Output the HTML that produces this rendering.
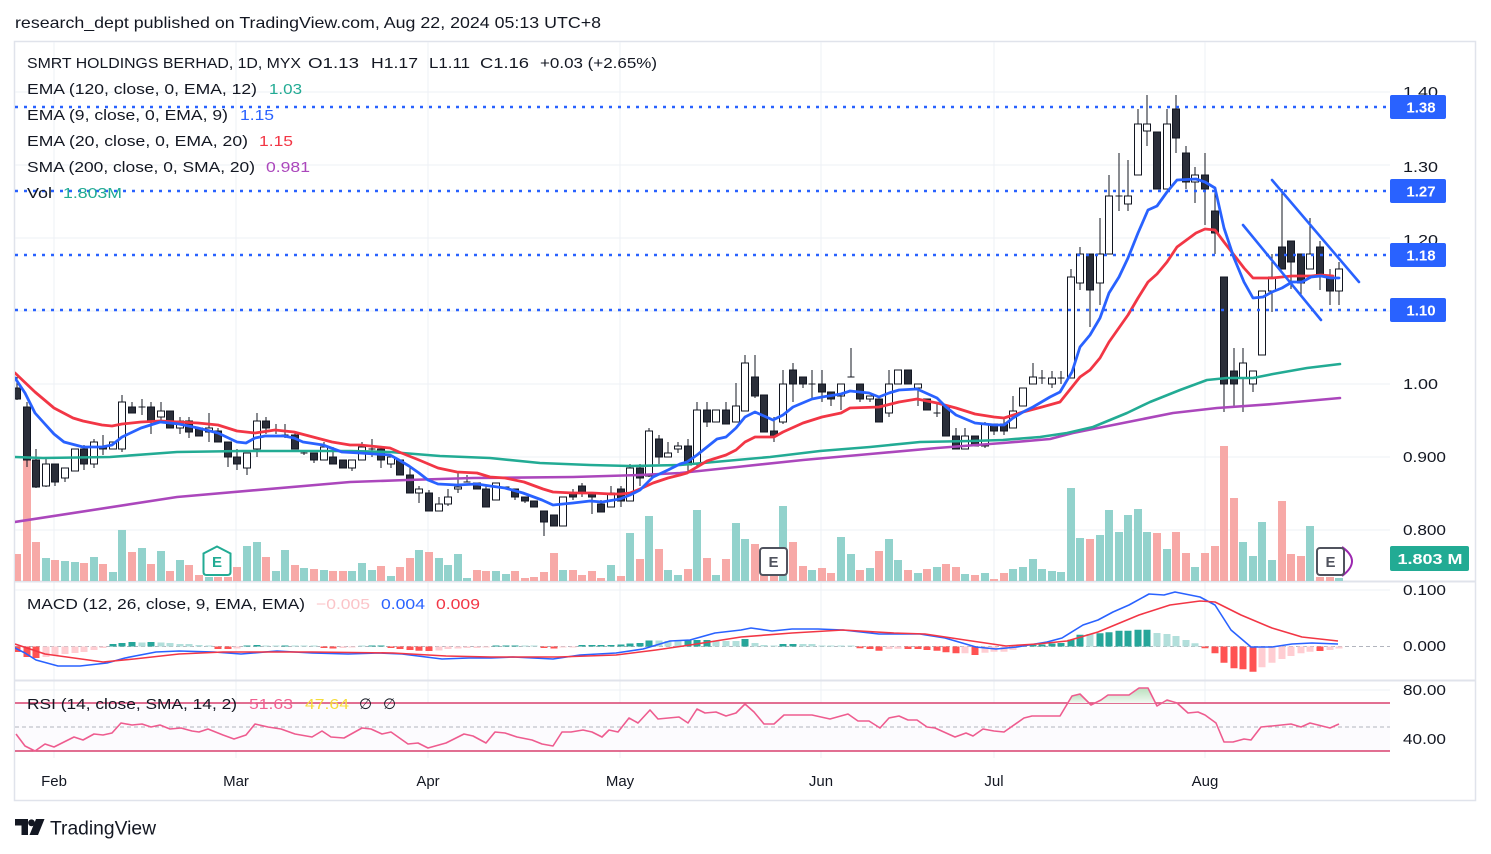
<!DOCTYPE html>
<html><head><meta charset="utf-8">
<style>
html,body{margin:0;padding:0;background:#fff;}
svg{display:block;font-family:"Liberation Sans","DejaVu Sans",Arial,sans-serif;}
</style></head><body>
<svg width="1491" height="854" viewBox="0 0 1491 854" xmlns="http://www.w3.org/2000/svg">
<rect width="1491" height="854" fill="#fff"/>
<defs>
<clipPath id="cm"><rect x="15" y="42" width="1375" height="539"/></clipPath>
<clipPath id="cmacd"><rect x="15" y="583" width="1375" height="97"/></clipPath>
<clipPath id="crsi"><rect x="15" y="682" width="1375" height="78"/></clipPath>
<linearGradient id="gfill" x1="0" y1="0" x2="0" y2="1"><stop offset="0" stop-color="#b9dfbd"/><stop offset="1" stop-color="#f1f9f2"/></linearGradient>
</defs>

<text x="15" y="28" font-size="16" fill="#131722" textLength="586" lengthAdjust="spacingAndGlyphs">research_dept published on TradingView.com, Aug 22, 2024 05:13 UTC+8</text>

<rect x="14.5" y="41.5" width="1461" height="759" fill="none" stroke="#e0e3eb" stroke-width="1.5"/>

<g stroke="#eef0f5" stroke-width="1">
<path d="M15 92H1390M15 165H1390M15 238H1390M15 311H1390M15 384H1390M15 457H1390M15 530H1390M15 590H1390M15 690H1390M15 739H1390"/>
<path d="M54 42V758M236 42V758M428 42V758M620 42V758M821 42V758M994 42V758M1205 42V758"/>
</g>
<path d="M15 581.5H1476M15 680.5H1476" stroke="#e0e3eb" stroke-width="2"/>

<g clip-path="url(#cm)">
<path fill="#92d2cc" d="M42 558h8V581h-8zM61 561h8V581h-8zM71 562h8V581h-8zM90 557h8V581h-8zM109 572h8V581h-8zM118 530h8V581h-8zM138 548h8V581h-8zM157 551h8V581h-8zM176 560h8V581h-8zM205 577h8V581h-8zM243 546h8V581h-8zM253 542h8V581h-8zM272 571h8V581h-8zM281 550h8V581h-8zM300 568h8V581h-8zM320 570h8V581h-8zM348 571h8V581h-8zM358 563h8V581h-8zM368 570h8V581h-8zM387 576h8V581h-8zM415 550h8V581h-8zM435 558h8V581h-8zM444 565h8V581h-8zM454 554h8V581h-8zM463 578h8V581h-8zM492 571h8V581h-8zM502 574h8V581h-8zM559 570h8V581h-8zM607 565h8V581h-8zM626 533h8V581h-8zM645 516h8V581h-8zM664 570h8V581h-8zM674 575h8V581h-8zM693 510h8V581h-8zM712 575h8V581h-8zM732 523h8V581h-8zM741 539h8V581h-8zM779 506h8V581h-8zM808 570h8V581h-8zM837 537h8V581h-8zM847 554h8V581h-8zM866 568h8V581h-8zM885 539h8V581h-8zM894 560h8V581h-8zM914 573h8V581h-8zM933 567h8V581h-8zM961 574h8V581h-8zM981 573h8V581h-8zM1009 569h8V581h-8zM1019 567h8V581h-8zM1029 559h8V581h-8zM1038 569h8V581h-8zM1048 571h8V581h-8zM1057 572h8V581h-8zM1067 488h8V581h-8zM1076 538h8V581h-8zM1096 535h8V581h-8zM1105 510h8V581h-8zM1115 532h8V581h-8zM1124 515h8V581h-8zM1134 509h8V581h-8zM1143 532h8V581h-8zM1163 549h8V581h-8zM1191 567h8V581h-8zM1239 542h8V581h-8zM1249 556h8V581h-8zM1258 522h8V581h-8zM1268 560h8V581h-8zM1306 526h8V581h-8zM1335 578h8V581h-8z"/>
<path fill="#f7a9a7" d="M13 554h8V581h-8zM23 460h8V581h-8zM32 542h8V581h-8zM51 560h8V581h-8zM80 563h8V581h-8zM99 564h8V581h-8zM128 552h8V581h-8zM147 564h8V581h-8zM166 571h8V581h-8zM185 565h8V581h-8zM195 575h8V581h-8zM214 577h8V581h-8zM224 577h8V581h-8zM233 567h8V581h-8zM262 557h8V581h-8zM291 565h8V581h-8zM310 569h8V581h-8zM329 571h8V581h-8zM339 571h8V581h-8zM377 566h8V581h-8zM396 567h8V581h-8zM406 558h8V581h-8zM425 552h8V581h-8zM473 570h8V581h-8zM482 571h8V581h-8zM511 571h8V581h-8zM521 578h8V581h-8zM530 577h8V581h-8zM540 572h8V581h-8zM550 553h8V581h-8zM569 570h8V581h-8zM578 575h8V581h-8zM588 571h8V581h-8zM597 578h8V581h-8zM617 576h8V581h-8zM636 559h8V581h-8zM655 549h8V581h-8zM684 569h8V581h-8zM703 558h8V581h-8zM722 559h8V581h-8zM751 544h8V581h-8zM760 548h8V581h-8zM770 548h8V581h-8zM789 542h8V581h-8zM799 566h8V581h-8zM818 568h8V581h-8zM827 573h8V581h-8zM856 570h8V581h-8zM875 551h8V581h-8zM904 570h8V581h-8zM923 569h8V581h-8zM942 564h8V581h-8zM952 567h8V581h-8zM971 575h8V581h-8zM990 579h8V581h-8zM1000 573h8V581h-8zM1086 539h8V581h-8zM1153 533h8V581h-8zM1172 532h8V581h-8zM1182 553h8V581h-8zM1201 553h8V581h-8zM1211 546h8V581h-8zM1220 446h8V581h-8zM1230 498h8V581h-8zM1278 501h8V581h-8zM1287 554h8V581h-8zM1297 556h8V581h-8zM1316 577h8V581h-8zM1326 577h8V581h-8z"/>

<path fill="none" stroke="#131722" stroke-width="1" d="M17 377V400M27 402V467M36 449V488M46 458V487M55 464V486M65 468V482M75 449V471M84 445V470M94 439V468M103 435V455M113 442V449M122 395V452M132 402V413M142 399V415M138.5 407h7M151 402V434M161 402V423M170 411V428M180 417V434M189 417V438M199 428V436M209 413V442M218 428V442M228 442V467M237 449V470M247 453V475M257 413V457M266 417V434M276 424V434M272.5 431h7M285 424V438M281.5 435h7M295 431V449M304 451V455M300.5 453h7M314 453V463M324 442V460M333 447V464M343 460V468M352 460V471M362 442V460M372 439V457M368.5 449h7M381 449V468M391 457V468M400 460V475M410 468V493M419 486V503M429 490V511M439 497V511M448 489V506M458 472V493M467 475V482M463.5 482h7M477 483V489M486 486V507M496 483V500M506 487V489M502.5 487h7M515 489V500M525 497V503M534 501V507M544 511V536M554 515V526M563 497V526M573 489V500M582 483V497M592 493V514M601 500V512M611 486V507M621 486V507M630 464V501M640 464V486M649 428V477M659 435V464M668 442V457M678 442V453M688 439V471M697 402V467M707 402V427M716 410V422M726 402V424M736 383V422M745 355V411M755 355V398M764 395V432M774 417V442M783 370V424M793 363V402M803 377V388M812 370V398M808.5 384h7M822 370V402M831 392V406M841 384V410M851 348V377M847.5 377h7M860 384V402M870 396V402M879 399V422M889 370V417M898 370V384M908 370V384M918 384V406M927 399V410M937 402V417M933.5 413h7M946 406V436M956 428V449M965 428V449M975 436V446M985 422V448M994 424V435M1004 417V435M1013 396V428M1023 388V406M1033 363V384M1042 370V384M1038.5 378h7M1052 371V388M1061 371V384M1057.5 378h7M1071 269V378M1080 247V290M1090 254V327M1100 218V305M1109 175V254M1119 153V211M1115.5 196h7M1128 160V211M1138 109V175M1147 95V146M1157 132V189M1167 109V189M1176 95V153M1186 146V189M1195 167V203M1205 153V225M1215 189V254M1224 277V412M1234 348V406M1243 348V412M1253 371V392M1262 291V355M1272 254V312M1282 189V269M1291 241V289M1301 254V297M1310 218V269M1320 241V290M1330 269V305M1339 262V305"/>

<path fill="#2a2e39" stroke="#131722" stroke-width="1" d="M13.5 388h7V399h-7zM23.5 407h7V460h-7zM32.5 460h7V487h-7zM51.5 464h7V482h-7zM80.5 449h7V464h-7zM99.5 447h7V449h-7zM128.5 407h7V413h-7zM147.5 407h7V421h-7zM166.5 411h7V428h-7zM185.5 421h7V432h-7zM195.5 428h7V436h-7zM214.5 431h7V442h-7zM224.5 442h7V457h-7zM233.5 457h7V464h-7zM262.5 421h7V428h-7zM291.5 435h7V449h-7zM310.5 453h7V460h-7zM329.5 457h7V464h-7zM339.5 460h7V468h-7zM377.5 449h7V460h-7zM396.5 460h7V475h-7zM406.5 475h7V493h-7zM425.5 493h7V511h-7zM473.5 483h7V489h-7zM482.5 489h7V507h-7zM511.5 489h7V497h-7zM521.5 497h7V501h-7zM530.5 501h7V507h-7zM540.5 511h7V522h-7zM550.5 515h7V526h-7zM569.5 493h7V497h-7zM578.5 486h7V493h-7zM588.5 493h7V497h-7zM597.5 504h7V512h-7zM617.5 489h7V501h-7zM636.5 468h7V478h-7zM655.5 439h7V457h-7zM684.5 446h7V465h-7zM703.5 410h7V422h-7zM722.5 410h7V424h-7zM751.5 377h7V396h-7zM760.5 395h7V432h-7zM770.5 431h7V436h-7zM789.5 370h7V384h-7zM799.5 377h7V384h-7zM818.5 384h7V392h-7zM827.5 392h7V399h-7zM856.5 384h7V399h-7zM875.5 399h7V422h-7zM904.5 370h7V384h-7zM923.5 399h7V410h-7zM942.5 406h7V436h-7zM952.5 436h7V449h-7zM971.5 436h7V446h-7zM990.5 424h7V431h-7zM1000.5 424h7V431h-7zM1086.5 254h7V290h-7zM1153.5 132h7V189h-7zM1172.5 109h7V138h-7zM1182.5 153h7V182h-7zM1201.5 175h7V189h-7zM1211.5 211h7V233h-7zM1220.5 277h7V384h-7zM1230.5 371h7V384h-7zM1278.5 247h7V269h-7zM1287.5 241h7V262h-7zM1297.5 254h7V283h-7zM1316.5 247h7V277h-7zM1326.5 277h7V291h-7z"/>

<path fill="#ffffff" stroke="#131722" stroke-width="1" d="M42.5 464h7V486h-7zM61.5 468h7V478h-7zM71.5 449h7V471h-7zM90.5 442h7V464h-7zM109.5 442h7V449h-7zM118.5 402h7V449h-7zM157.5 411h7V417h-7zM176.5 421h7V428h-7zM205.5 428h7V432h-7zM243.5 453h7V468h-7zM253.5 421h7V449h-7zM320.5 447h7V460h-7zM348.5 460h7V468h-7zM358.5 447h7V460h-7zM387.5 457h7V464h-7zM415.5 489h7V493h-7zM435.5 504h7V511h-7zM444.5 497h7V504h-7zM454.5 487h7V489h-7zM492.5 483h7V500h-7zM559.5 497h7V526h-7zM607.5 493h7V507h-7zM626.5 468h7V501h-7zM645.5 431h7V476h-7zM664.5 453h7V457h-7zM674.5 446h7V449h-7zM693.5 410h7V463h-7zM712.5 410h7V422h-7zM732.5 406h7V422h-7zM741.5 363h7V411h-7zM779.5 384h7V422h-7zM837.5 384h7V396h-7zM866.5 396h7V399h-7zM885.5 384h7V413h-7zM894.5 370h7V384h-7zM914.5 384h7V388h-7zM961.5 436h7V449h-7zM981.5 424h7V446h-7zM1009.5 411h7V428h-7zM1019.5 388h7V406h-7zM1029.5 377h7V384h-7zM1048.5 378h7V384h-7zM1067.5 277h7V378h-7zM1076.5 254h7V283h-7zM1096.5 254h7V283h-7zM1105.5 196h7V254h-7zM1124.5 196h7V204h-7zM1134.5 124h7V175h-7zM1143.5 124h7V131h-7zM1163.5 124h7V189h-7zM1191.5 175h7V182h-7zM1239.5 363h7V378h-7zM1249.5 371h7V384h-7zM1258.5 291h7V355h-7zM1268.5 277h7V291h-7zM1306.5 254h7V269h-7zM1335.5 269h7V291h-7z"/>

<g fill="none" stroke-linejoin="round" stroke-linecap="round">
<polyline stroke="#ab47bc" stroke-width="2.6" points="15,522 177,497 350,482 407,480 473,478 573,477 640,475 680,473 737,467 803,460 870,454 937,448 1003,443 1050,439 1073,433 1123,423 1173,413 1217,408 1273,404 1340,398"/>
<polyline stroke="#22ab94" stroke-width="2.6" points="15,457 43,458 110,457 177,452 243,451 310,451 350,451 390,452 440,456 490,458 540,463 590,465 630,466 680,465 703,463 770,457 820,451 870,447 920,442 970,441 1003,440 1040,437 1067,433 1093,427 1127,413 1150,402 1180,390 1207,380 1227,378 1253,378 1273,374 1307,368 1340,364"/>
<polyline stroke="#f23645" stroke-width="2.8" points="15,373 35,392 54,408 73,418 83,421 102,425 112,426 122,424 141,422 160,421 179,422 198,423 218,425 237,431 255,433 275,430 294,432 313,437 332,442 350,445 360,445 380,447 390,448 399,452 419,460 438,468 457,472 477,473 490,477 505,478 524,482 543,489 553,492 573,493 592,493 611,494 621,494 630,493 640,489 653,483 668,478 680,475 687,473 707,461 726,455 736,450 745,442 755,437 774,437 783,432 803,423 822,417 841,413 850,408 879,407 899,402 917,399 937,403 956,408 975,414 994,417 1004,418 1023,412 1042,407 1060,402 1080,377 1090,370 1100,358 1109,342 1128,315 1138,298 1148,282 1157,274 1167,262 1177,247 1196,233 1205,229 1215,230 1224,242 1234,255 1244,268 1253,278 1272,278 1292,276 1311,276 1321,275 1333,276"/>
<polyline stroke="#2962ff" stroke-width="2.8" points="15,378 25,393 35,413 44,423 54,434 64,442 83,447 102,447 112,445 122,437 141,428 160,422 179,424 198,428 218,433 237,442 246,443 255,438 265,436 284,436 294,438 303,442 323,445 342,452 360,453 390,455 399,460 409,466 419,473 428,480 438,484 457,485 477,484 490,486 505,488 523,493 542,500 553,505 573,503 590,501 602,502 620,499 630,495 640,490 653,477 668,470 680,464 687,462 697,455 717,439 726,437 736,428 745,417 755,412 764,416 773,420 783,415 793,407 812,399 822,397 841,394 850,391 869,393 879,397 889,393 899,390 917,389 937,398 946,407 956,415 975,423 994,425 1004,425 1013,418 1023,412 1033,407 1050,397 1060,392 1072,372 1080,347 1090,335 1100,318 1109,293 1119,277 1128,258 1138,233 1148,210 1157,206 1167,192 1177,180 1196,179 1205,182 1215,188 1224,228 1234,258 1244,282 1253,298 1263,297 1272,292 1282,288 1292,282 1302,282 1311,277 1321,276 1331,278 1339,278"/>
<path stroke="#2962ff" stroke-width="2.6" d="M1272 180L1359 282M1243 225L1321 320"/>
</g>

<path fill="none" stroke="#2962ff" stroke-width="2.6" stroke-dasharray="3 6" d="M15 107H1390M15 191H1390M15 255H1390M15 310H1390"/>

<path d="M217 546.5L230.5 553.5V572Q230.5 575 227.5 575H206.5Q203.5 575 203.5 572V553.5Z" fill="#fff" stroke="#22ab94" stroke-width="2"/>
<text x="217" y="567" font-size="15" font-weight="bold" fill="#22ab94" text-anchor="middle">E</text>
<rect x="760" y="548" width="27" height="27" rx="3" fill="#fff" stroke="#50535e" stroke-width="2"/>
<text x="773.5" y="567" font-size="15" font-weight="bold" fill="#50535e" text-anchor="middle">E</text>
<path d="M1342 547Q1362 561 1342 576" fill="none" stroke="#9c27b0" stroke-width="2"/>
<rect x="1317" y="548" width="27" height="27" rx="3" fill="#fff" stroke="#50535e" stroke-width="2"/>
<text x="1330.5" y="567" font-size="15" font-weight="bold" fill="#50535e" text-anchor="middle">E</text>
</g>

<g clip-path="url(#cmacd)">
<path d="M15 646.5H1390" stroke="#b2b5be" stroke-width="1" stroke-dasharray="4 3"/>
<path fill="#26a69a" d="M109.5 646.5h7V644h-7zM118.5 646.5h7V643h-7zM128.5 646.5h7V642h-7zM147.5 646.5h7V642h-7zM243.5 646.5h7V645.5h-7zM253.5 646.5h7V645h-7zM281.5 646.5h7V645.5h-7zM368.5 646.5h7V645.5h-7zM377.5 646.5h7V645.5h-7zM492.5 646.5h7V645.5h-7zM502.5 646.5h7V645.5h-7zM511.5 646.5h7V645.5h-7zM578.5 646.5h7V645h-7zM588.5 646.5h7V645h-7zM597.5 646.5h7V645h-7zM607.5 646.5h7V645h-7zM617.5 646.5h7V644.5h-7zM626.5 646.5h7V643.5h-7zM636.5 646.5h7V643h-7zM645.5 646.5h7V640.5h-7zM684.5 646.5h7V640.5h-7zM693.5 646.5h7V640h-7zM703.5 646.5h7V640h-7zM741.5 646.5h7V639h-7zM779.5 646.5h7V644h-7zM789.5 646.5h7V644h-7zM1019.5 646.5h7V645.5h-7zM1029.5 646.5h7V645h-7zM1038.5 646.5h7V644.5h-7zM1048.5 646.5h7V643.5h-7zM1057.5 646.5h7V643h-7zM1067.5 646.5h7V639.7h-7zM1076.5 646.5h7V634.7h-7zM1096.5 646.5h7V633.3h-7zM1105.5 646.5h7V632.3h-7zM1115.5 646.5h7V630.7h-7zM1124.5 646.5h7V630.7h-7zM1134.5 646.5h7V629.7h-7zM1143.5 646.5h7V629.7h-7z"/>
<path fill="#b2dfdb" d="M138.5 646.5h7V642.5h-7zM157.5 646.5h7V642.5h-7zM166.5 646.5h7V643h-7zM176.5 646.5h7V644h-7zM185.5 646.5h7V644h-7zM195.5 646.5h7V645h-7zM205.5 646.5h7V645.5h-7zM262.5 646.5h7V645.5h-7zM272.5 646.5h7V645.5h-7zM291.5 646.5h7V645.5h-7zM300.5 646.5h7V645.5h-7zM310.5 646.5h7V645.5h-7zM358.5 646.5h7V645.5h-7zM521.5 646.5h7V645.5h-7zM530.5 646.5h7V645.5h-7zM655.5 646.5h7V640.5h-7zM664.5 646.5h7V641h-7zM674.5 646.5h7V641h-7zM712.5 646.5h7V641h-7zM722.5 646.5h7V641h-7zM732.5 646.5h7V641h-7zM751.5 646.5h7V643h-7zM760.5 646.5h7V645h-7zM770.5 646.5h7V645.5h-7zM799.5 646.5h7V644h-7zM808.5 646.5h7V644h-7zM818.5 646.5h7V645.5h-7zM827.5 646.5h7V645.5h-7zM837.5 646.5h7V645.5h-7zM847.5 646.5h7V645.5h-7zM1086.5 646.5h7V634h-7zM1153.5 646.5h7V633h-7zM1163.5 646.5h7V634h-7zM1172.5 646.5h7V636h-7zM1182.5 646.5h7V640h-7zM1191.5 646.5h7V643.3h-7z"/>
<path fill="#ff5252" d="M13.5 646.5h7V652h-7zM23.5 646.5h7V657h-7zM32.5 646.5h7V658h-7zM214.5 646.5h7V649h-7zM224.5 646.5h7V649h-7zM320.5 646.5h7V648h-7zM329.5 646.5h7V648.5h-7zM387.5 646.5h7V648h-7zM396.5 646.5h7V649h-7zM406.5 646.5h7V650h-7zM415.5 646.5h7V650.7h-7zM425.5 646.5h7V651h-7zM540.5 646.5h7V648h-7zM550.5 646.5h7V648.5h-7zM856.5 646.5h7V648.3h-7zM866.5 646.5h7V649h-7zM875.5 646.5h7V650.7h-7zM904.5 646.5h7V649h-7zM914.5 646.5h7V649h-7zM923.5 646.5h7V650h-7zM933.5 646.5h7V650.7h-7zM942.5 646.5h7V652.3h-7zM952.5 646.5h7V653.3h-7zM971.5 646.5h7V655h-7zM1201.5 646.5h7V648.3h-7zM1211.5 646.5h7V653.3h-7zM1220.5 646.5h7V662.7h-7zM1230.5 646.5h7V668.3h-7zM1239.5 646.5h7V669.3h-7zM1249.5 646.5h7V671.7h-7zM1316.5 646.5h7V651h-7z"/>
<path fill="#ffcdd2" d="M42.5 646.5h7V657h-7zM51.5 646.5h7V655h-7zM61.5 646.5h7V654h-7zM71.5 646.5h7V653h-7zM80.5 646.5h7V652h-7zM90.5 646.5h7V650h-7zM99.5 646.5h7V648h-7zM233.5 646.5h7V648.5h-7zM339.5 646.5h7V648h-7zM348.5 646.5h7V647.5h-7zM435.5 646.5h7V650.5h-7zM444.5 646.5h7V649h-7zM454.5 646.5h7V648.5h-7zM463.5 646.5h7V648h-7zM473.5 646.5h7V648h-7zM482.5 646.5h7V647.5h-7zM559.5 646.5h7V647.5h-7zM569.5 646.5h7V647.5h-7zM885.5 646.5h7V649h-7zM894.5 646.5h7V648.7h-7zM961.5 646.5h7V653.3h-7zM981.5 646.5h7V652.7h-7zM990.5 646.5h7V651.7h-7zM1000.5 646.5h7V651.7h-7zM1009.5 646.5h7V650h-7zM1258.5 646.5h7V667.3h-7zM1268.5 646.5h7V662.7h-7zM1278.5 646.5h7V659h-7zM1287.5 646.5h7V656h-7zM1297.5 646.5h7V653.3h-7zM1306.5 646.5h7V651.7h-7zM1326.5 646.5h7V650h-7zM1335.5 646.5h7V648.5h-7z"/>
<g fill="none" stroke-width="1.6" stroke-linejoin="round">
<polyline stroke="#2962ff" points="15,648 25,653 36,660 58,666 80,666 107,663 125,658 156,652 179,651 214,652 241,654 277,651 312,653 348,654 379,653 402,654 442,659 469,658 491,658 513,657 553,659 580,655 616,653 643,649 670,641 690,640 715,633 741,630 751,628 772,631 792,629 818,629 843,630 879,634 920,634 945,638 976,647 996,649 1017,647 1047,642 1062,638 1083,625 1098,620 1113,612 1129,605 1149,594 1164,595 1175,592 1200,597 1215,605 1231,630 1251,647 1272,647 1292,644 1312,643 1338,644"/>
<polyline stroke="#f23645" points="15,644 45,654 103,662 134,659 179,654 223,652 312,652 393,653 446,656 491,657 558,657 616,655 656,650 690,645 741,637 792,633 843,630 894,633 925,634 965,640 1006,646 1037,644 1067,641 1098,632 1139,615 1170,605 1200,601 1215,602 1241,615 1272,628 1302,637 1338,641"/>
</g>
</g>

<g clip-path="url(#crsi)">
<rect x="15" y="703" width="1375" height="48" fill="#fcfbfe"/>
<path d="M15 727H1390" stroke="#b2b5be" stroke-width="1" stroke-dasharray="4 3"/>
<path d="M15 703H1390M15 751H1390" stroke="#d8406f" stroke-width="1.4"/>
<g fill="url(#gfill)">
<polygon points="1068,703 1072,696 1080,694 1088.5,703"/>
<polygon points="1096,703 1101,700 1108,695 1129,695 1139,688 1148,688 1155,703"/>
<polygon points="1163,703 1167,700 1175,703"/>
</g>
<polyline fill="none" stroke="#ee5c8f" stroke-width="1.6" stroke-linejoin="round" points="16,734 25,746 35,751 45,744 54,747 74,737 83,740 94,734 103,735 112,733 121,723 132,725 142,724 151,727 160,725 170,729 181,728 192,731 199,732 208,729 223,735 234,739 246,735 255,724 268,727 281,729 295,734 312,737 322,731 331,737 344,738 362,728 371,729 382,734 391,732 408,744 418,743 428,748 446,743 464,734 473,736 486,743 495,732 505,733 517,737 532,740 542,744 553,746 562,732 571,732 583,730 592,732 602,737 609,730 618,732 629,718 638,723 650,710 658,719 679,717 688,723 697,709 705,713 716,712 726,716 736,713 745,704 754,712 764,724 774,724 784,715 812,715 830,719 848,714 858,721 869,721 880,728 889,718 899,716 908,720 917,720 927,727 935,728 955,737 966,733 973,736 983,729 994,731 1004,732 1024,718 1032,716 1060,716 1072,696 1080,694 1091,705 1101,700 1108,695 1129,695 1139,688 1148,688 1157,706 1167,700 1177,703 1188,713 1198,712 1205,715 1216,723 1224,742 1233,742 1244,739 1251,740 1261,727 1272,726 1291,724 1301,727 1310,723 1322,726 1330,728 1339,724"/>
</g>

<g font-size="15" fill="#131722">
<text x="27" y="68" textLength="274" lengthAdjust="spacingAndGlyphs">SMRT HOLDINGS BERHAD, 1D, MYX</text>
<text x="308" y="68" textLength="51" lengthAdjust="spacingAndGlyphs">O1.13</text>
<text x="371" y="68" textLength="47" lengthAdjust="spacingAndGlyphs">H1.17</text>
<text x="429" y="68" textLength="41" lengthAdjust="spacingAndGlyphs">L1.11</text>
<text x="480" y="68" textLength="49" lengthAdjust="spacingAndGlyphs">C1.16</text>
<text x="540" y="68" textLength="117" lengthAdjust="spacingAndGlyphs">+0.03 (+2.65%)</text>
<text x="27" y="94" textLength="230" lengthAdjust="spacingAndGlyphs">EMA (120, close, 0, EMA, 12)</text>
<text x="269" y="94" textLength="33" lengthAdjust="spacingAndGlyphs" fill="#22ab94">1.03</text>
<text x="27" y="120" textLength="201" lengthAdjust="spacingAndGlyphs">EMA (9, close, 0, EMA, 9)</text>
<text x="240" y="120" textLength="34" lengthAdjust="spacingAndGlyphs" fill="#2962ff">1.15</text>
<text x="27" y="146" textLength="221" lengthAdjust="spacingAndGlyphs">EMA (20, close, 0, EMA, 20)</text>
<text x="259" y="146" textLength="34" lengthAdjust="spacingAndGlyphs" fill="#f23645">1.15</text>
<text x="27" y="172" textLength="228" lengthAdjust="spacingAndGlyphs">SMA (200, close, 0, SMA, 20)</text>
<text x="266" y="172" textLength="44" lengthAdjust="spacingAndGlyphs" fill="#ab47bc">0.981</text>
<text x="27" y="198" textLength="25" lengthAdjust="spacingAndGlyphs">Vol</text>
<text x="63" y="198" textLength="59" lengthAdjust="spacingAndGlyphs" fill="#22ab94">1.803M</text>
<text x="27" y="609" textLength="278" lengthAdjust="spacingAndGlyphs">MACD (12, 26, close, 9, EMA, EMA)</text>
<text x="316" y="609" textLength="54" lengthAdjust="spacingAndGlyphs" fill="#fbc4c8">−0.005</text>
<text x="381" y="609" textLength="44" lengthAdjust="spacingAndGlyphs" fill="#2962ff">0.004</text>
<text x="436" y="609" textLength="44" lengthAdjust="spacingAndGlyphs" fill="#f23645">0.009</text>
<text x="27" y="709" textLength="210" lengthAdjust="spacingAndGlyphs">RSI (14, close, SMA, 14, 2)</text>
<text x="249" y="709" textLength="44" lengthAdjust="spacingAndGlyphs" fill="#f06292">51.63</text>
<text x="305" y="709" textLength="44" lengthAdjust="spacingAndGlyphs" fill="#f5dc3a">47.64</text>
<text x="359" y="709">∅</text>
<text x="383" y="709">∅</text>
</g>

<g font-size="15" fill="#131722">
<text x="1403" y="97" textLength="35" lengthAdjust="spacingAndGlyphs">1.40</text>
<text x="1403" y="172" textLength="35" lengthAdjust="spacingAndGlyphs">1.30</text>
<text x="1403" y="245" textLength="35" lengthAdjust="spacingAndGlyphs">1.20</text>
<text x="1403" y="389" textLength="35" lengthAdjust="spacingAndGlyphs">1.00</text>
<text x="1403" y="462" textLength="43" lengthAdjust="spacingAndGlyphs">0.900</text>
<text x="1403" y="535" textLength="43" lengthAdjust="spacingAndGlyphs">0.800</text>
<text x="1403" y="595" textLength="43" lengthAdjust="spacingAndGlyphs">0.100</text>
<text x="1403" y="651" textLength="43" lengthAdjust="spacingAndGlyphs">0.000</text>
<text x="1403" y="695" textLength="43" lengthAdjust="spacingAndGlyphs">80.00</text>
<text x="1403" y="744" textLength="43" lengthAdjust="spacingAndGlyphs">40.00</text>
</g>

<g>
<rect x="1390" y="95" width="56" height="24" rx="2" fill="#2962ff"/>
<rect x="1390" y="179" width="56" height="24" rx="2" fill="#2962ff"/>
<rect x="1390" y="243" width="56" height="24" rx="2" fill="#2962ff"/>
<rect x="1390" y="298" width="56" height="24" rx="2" fill="#2962ff"/>
<rect x="1390" y="546" width="79" height="25" rx="2" fill="#22ab94"/>
</g>
<g font-size="15" font-weight="bold" fill="#fff" text-anchor="middle">
<text x="1421" y="112.5">1.38</text>
<text x="1421" y="196.5">1.27</text>
<text x="1421" y="260.5">1.18</text>
<text x="1421" y="315.5">1.10</text>
<text x="1430" y="564" textLength="65" lengthAdjust="spacingAndGlyphs">1.803 M</text>
</g>

<g font-size="15" fill="#131722" text-anchor="middle">
<text x="54" y="786">Feb</text>
<text x="236" y="786">Mar</text>
<text x="428" y="786">Apr</text>
<text x="620" y="786">May</text>
<text x="821" y="786">Jun</text>
<text x="994" y="786">Jul</text>
<text x="1205" y="786">Aug</text>
</g>

<g fill="#131722">
<path d="M15 819H28V835H21.5V825.5H15Z"/>
<circle cx="31.5" cy="822.8" r="3.4"/>
<path d="M36 819H44.5L38 835H29.5Z"/>
<text x="50" y="834.5" font-size="19" textLength="106" lengthAdjust="spacingAndGlyphs">TradingView</text>
</g>
</svg>
</body></html>
